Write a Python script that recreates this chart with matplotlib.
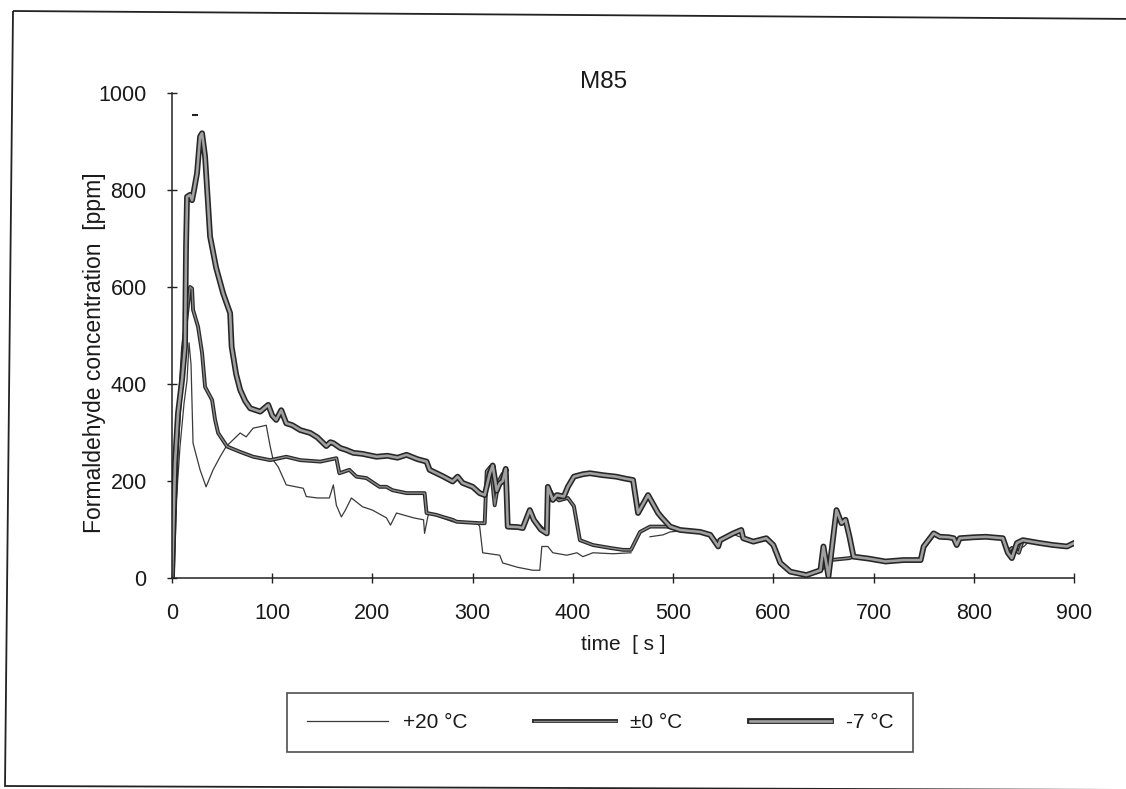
import numpy as np
import matplotlib
matplotlib.use('Agg')
import matplotlib.pyplot as plt
import matplotlib.patheffects as pe
from matplotlib.patches import Polygon

plt.rcParams['font.family'] = ['Liberation Sans', 'DejaVu Sans']

# ---------------- data ----------------
title = "M85"
xlabel = "time  [ s ]"
ylabel = "Formaldehyde concentration  [ppm]"
series_names = ["+20 °C", "±0 °C", "-7 °C"]
x_ticks = [0, 100, 200, 300, 400, 500, 600, 700, 800, 900]
y_ticks = [0, 200, 400, 600, 800, 1000]

t_p20 = [0, 4, 8, 12, 15, 17, 19, 21, 28, 34, 41, 48, 54, 61, 68, 74, 81, 88, 94, 98,
         101, 106, 114, 131, 134, 145, 157, 161, 164, 169, 173, 179, 190, 200, 214, 218,
         224, 241, 251, 252, 256, 267, 280, 304, 307, 310, 327, 330, 345, 360, 367, 369,
         375, 380, 394, 404, 410, 420, 440, 458, 466, 477, 490, 497, 507, 527, 537, 545,
         560, 570, 580, 593, 600, 607, 617, 633, 647, 657, 676, 680, 712, 747, 750, 760,
         780, 786, 812, 829, 836, 845, 850, 855, 866, 893, 900]
c_p20 = [0, 150, 271, 360, 408, 485, 440, 278, 223, 188, 223, 250, 271, 285, 299, 291,
         309, 312, 315, 271, 243, 229, 192, 185, 168, 165, 165, 192, 150, 126, 140, 165,
         147, 140, 124, 109, 134, 124, 120, 92, 134, 126, 116, 116, 106, 52, 47, 31, 22,
         16, 16, 65, 65, 52, 47, 52, 44, 52, 50, 52, np.nan, 85, 89, 95, 97, 93, 88, 75,
         90, 82, 75, 80, 68, 31, 13, 6, 16, 37, 41, 44, 34, 37, 62, 90, 82, 82, 85, 82,
         55, 60, 65, 75, 72, 65, 72]

t_0 = [0, 1, 5, 8, 11, 15, 18, 20, 21, 26, 30, 33, 40, 43, 46, 55, 68, 81, 98, 114,
       128, 148, 164, 167, 177, 184, 194, 207, 214, 220, 234, 252, 254, 264, 270, 280,
       284, 307, 312, 314, 318, 322, 326, 330, 334, 335, 350, 357, 361, 374, 375, 380,
       386, 395, 401, 404, 407, 420, 437, 450, 458, 467, 477, 493, 500, 507, 527, 537,
       545, 547, 560, 568, 570, 580, 593, 600, 607, 617, 633, 647, 657, 676, 680, 695,
       712, 730, 747, 750, 760, 766, 780, 783, 786, 812, 829, 834, 838, 845, 849, 866,
       879, 893, 900]
c_0 = [0, 16, 271, 370, 477, 546, 600, 597, 553, 518, 464, 394, 367, 326, 299, 271,
       260, 250, 243, 250, 243, 240, 247, 216, 223, 209, 206, 188, 188, 181, 175, 175,
       134, 130, 126, 120, 116, 113, 113, 220, 230, 150, 200, 215, 210, 105, 103, 140,
       120, 92, 188, 171, 160, 165, 148, 113, 78, 68, 62, 58, 58, 95, 106, 106, 104, 99,
       95, 89, 68, 78, 92, 97, 82, 75, 80, 68, 31, 13, 6, 16, 37, 41, 44, 40, 34, 37, 37,
       62, 90, 85, 82, 70, 82, 85, 82, 55, 62, 52, 78, 72, 68, 65, 72]

t_m7 = [0, 3, 6, 10, 13, 14, 15, 18, 20, 22, 25, 28, 30, 33, 38, 44, 51, 58, 59.5, 64,
        68, 73, 78, 88, 96, 100, 104, 109, 114, 120, 128, 138, 145, 154, 158, 161, 168,
        174, 181, 190, 204, 215, 225, 234, 245, 254, 257, 262, 270, 280, 285, 290, 300,
        307, 312, 317, 320, 324, 327, 330, 333, 335, 345, 350, 357, 361, 368, 374, 375,
        380, 384, 391, 395, 401, 410, 417, 430, 443, 452, 460, 465, 475, 485, 489, 497,
        507, 517, 527, 537, 545, 547, 560, 568, 570, 580, 593, 600, 607, 617, 633, 647,
        650, 655, 663, 668, 672, 676, 680, 695, 712, 730, 747, 750, 760, 766, 775, 780,
        783, 786, 800, 812, 829, 834, 838, 843, 849, 866, 879, 893, 900]
c_m7 = [0, 237, 340, 408, 477, 683, 786, 790, 779, 800, 835, 910, 917, 869, 704, 640,
        587, 546, 477, 420, 388, 365, 350, 343, 357, 335, 326, 346, 319, 315, 305, 299,
        290, 272, 280, 278, 268, 264, 258, 256, 250, 252, 248, 254, 245, 240, 223, 218,
        210, 199, 209, 196, 188, 175, 171, 215, 232, 180, 195, 200, 225, 106, 105, 103,
        140, 120, 100, 92, 188, 161, 171, 168, 188, 209, 214, 216, 212, 209, 205, 202,
        134, 171, 134, 124, 106, 99, 97, 95, 89, 65, 78, 92, 99, 82, 75, 82, 68, 31, 13,
        6, 16, 65, 3, 140, 113, 120, 85, 44, 40, 34, 37, 37, 65, 92, 85, 84, 82, 68, 82,
        84, 85, 82, 52, 41, 72, 78, 72, 68, 65, 72]

# isolated point of the -7 °C record above the peak
t_m7_dot = [23]
c_m7_dot = [955]

# ---------------- figure ----------------
W, H = 1126, 789
fig = plt.figure(figsize=(W / 100, H / 100), dpi=100)
fig.patch.set_facecolor('white')

ax = fig.add_axes([172 / W, 1 - 578 / H, 902 / W, 485 / H])

l1, = ax.plot(t_p20, c_p20, color='#3a3a3a', lw=0.9, label=series_names[0])
l2, = ax.plot(t_0, c_0, color='#8a8a8a', lw=1.0, label=series_names[1],
              path_effects=[pe.Stroke(linewidth=2.8, foreground='#2a2a2a'), pe.Normal()])
l3, = ax.plot(t_m7, c_m7, color='#a0a0a0', lw=1.9, label=series_names[2],
              path_effects=[pe.Stroke(linewidth=4.2, foreground='#262626'), pe.Normal()])
ax.plot(t_m7_dot, c_m7_dot, linestyle='none', marker='_', markersize=4,
        markeredgewidth=1.5, color='#222222')

ax.set_xlim(0, 900)
ax.set_ylim(0, 1000)
ax.set_xticks(x_ticks)
ax.set_yticks(y_ticks)
for s in ['top', 'right']:
    ax.spines[s].set_visible(False)
for s in ['left', 'bottom']:
    ax.spines[s].set_color('#222222')
    ax.spines[s].set_linewidth(1.1)
ax.tick_params(axis='both', direction='inout', length=6.5, width=1.0,
               colors='#222222', labelsize=15.5, labelcolor='#1a1a1a')
ax.tick_params(axis='x', pad=15)
ax.tick_params(axis='y', pad=15)

ax.set_title(title, fontsize=17.5, color='#1a1a1a', pad=0, x=0.479, y=1.01)
ax.set_xlabel(xlabel, fontsize=15, color='#1a1a1a', labelpad=8)
ax.set_ylabel(ylabel, fontsize=16.5, color='#1a1a1a')
ax.yaxis.set_label_coords(-0.073, 0.465)

leg = fig.legend(handles=[l1, l2, l3], loc='center',
                 bbox_to_anchor=(287 / W, 1 - 756 / H, 626 / W, 67 / H),
                 mode='expand', ncol=3, fontsize=15, frameon=True,
                 fancybox=False, edgecolor='#222222', borderpad=0.95,
                 handlelength=3.9, handletextpad=0.7, borderaxespad=0)
leg.get_frame().set_linewidth(1.2)
for txt in leg.get_texts():
    txt.set_color('#1a1a1a')

# outer chart border (slightly skewed scan)
frame = Polygon([(13 / W, 1 - 11 / H), (1140 / W, 1 - 19 / H),
                 (1140 / W, 1 - 790 / H), (5 / W, 1 - 786 / H)],
                closed=True, fill=False, ec='#222222', lw=1.3,
                transform=fig.transFigure, clip_on=False)
fig.add_artist(frame)

fig.savefig('out.png', dpi=100, facecolor='white')
